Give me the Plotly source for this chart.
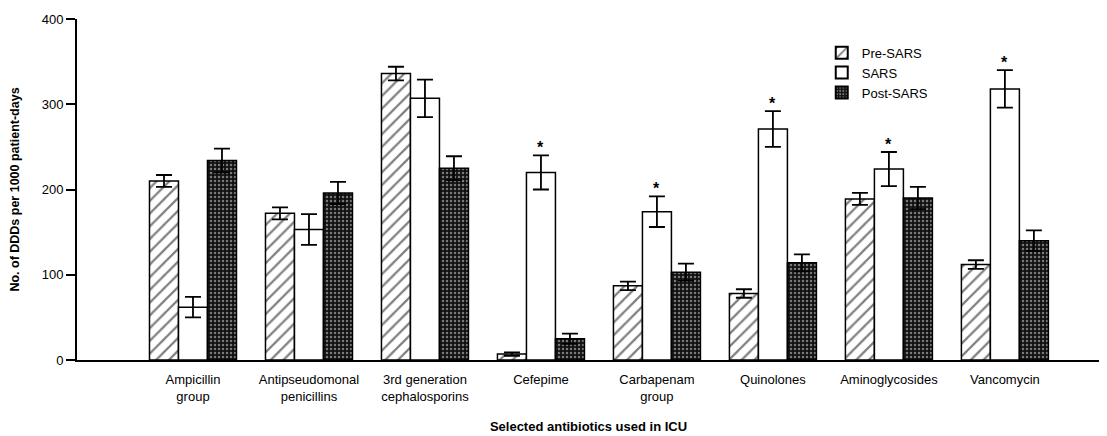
import plotly.graph_objects as go

categories = ["Ampicillin<br>group", "Antipseudomonal<br>penicillins", "3rd generation<br>cephalosporins",
              "Cefepime", "Carbapenam<br>group", "Quinolones", "Aminoglycosides", "Vancomycin"]
pre_sars = [210, 172, 336, 7, 87, 78, 189, 112]
pre_err = [7, 7, 8, 2, 5, 5, 7, 5]
sars = [62, 153, 307, 220, 174, 271, 224, 318]
sars_err = [12, 18, 22, 20, 18, 21, 20, 22]
post_sars = [234, 196, 225, 25, 103, 114, 190, 140]
post_err = [14, 13, 14, 6, 10, 10, 13, 12]
significant = [False, False, False, True, True, True, True, True]

font = "Liberation Sans, Arial, sans-serif"
x = list(range(len(categories)))

fig = go.Figure()
fig.add_bar(name="Pre-SARS", x=x, y=pre_sars,
            error_y=dict(type="data", array=pre_err, color="black", thickness=1.8, width=8),
            marker=dict(color="white", line=dict(color="black", width=1.5),
                        pattern=dict(shape="/", fgcolor="black", bgcolor="white", size=9, solidity=0.25)))
fig.add_bar(name="SARS", x=x, y=sars,
            error_y=dict(type="data", array=sars_err, color="black", thickness=1.8, width=8),
            marker=dict(color="white", line=dict(color="black", width=1.5)))
fig.add_bar(name="Post-SARS", x=x, y=post_sars,
            error_y=dict(type="data", array=post_err, color="black", thickness=1.8, width=8),
            marker=dict(color="#111111", line=dict(color="black", width=1.5),
                        pattern=dict(shape=".", fgcolor="#e0e0e0", bgcolor="#111111", size=4, solidity=0.3)))

for i, sig in enumerate(significant):
    if sig:
        fig.add_annotation(x=i, y=sars[i] + sars_err[i], text="<b>*</b>", showarrow=False,
                           yanchor="bottom", yshift=-3, font=dict(size=16, color="black", family=font))

fig.update_layout(
    width=1099, height=428,
    margin=dict(l=69, r=7, t=11, b=76, autoexpand=False),
    paper_bgcolor="white", plot_bgcolor="white",
    barmode="group", bargap=0.25, bargroupgap=0,
    font=dict(family=font, color="black", size=13),
    legend=dict(x=0.728, y=0.945, xanchor="left", yanchor="top", bgcolor="rgba(0,0,0,0)",
                font=dict(size=13, family=font), tracegroupgap=0, itemsizing="constant",
                itemwidth=30),
    xaxis=dict(range=[-1.0, 7.82], tickmode="array", tickvals=x, ticktext=categories,
               showline=True, linecolor="black", linewidth=2, ticks="", showgrid=False,
               zeroline=False, tickfont=dict(size=13), automargin=False, ticklabelstandoff=6,
               title=dict(text="<b>Selected antibiotics used in ICU</b>", font=dict(size=13), standoff=19)),
    yaxis=dict(range=[0, 400], tickvals=[0, 100, 200, 300, 400], showline=True, linecolor="black",
               linewidth=2, ticks="outside", ticklen=9, tickwidth=1.5, tickcolor="black",
               showgrid=False, zeroline=False, tickfont=dict(size=13), automargin=False,
               title=dict(text="<b>No. of DDDs per 1000 patient-days</b>", font=dict(size=12.5), standoff=20)),
)

fig.write_html("out.html")
